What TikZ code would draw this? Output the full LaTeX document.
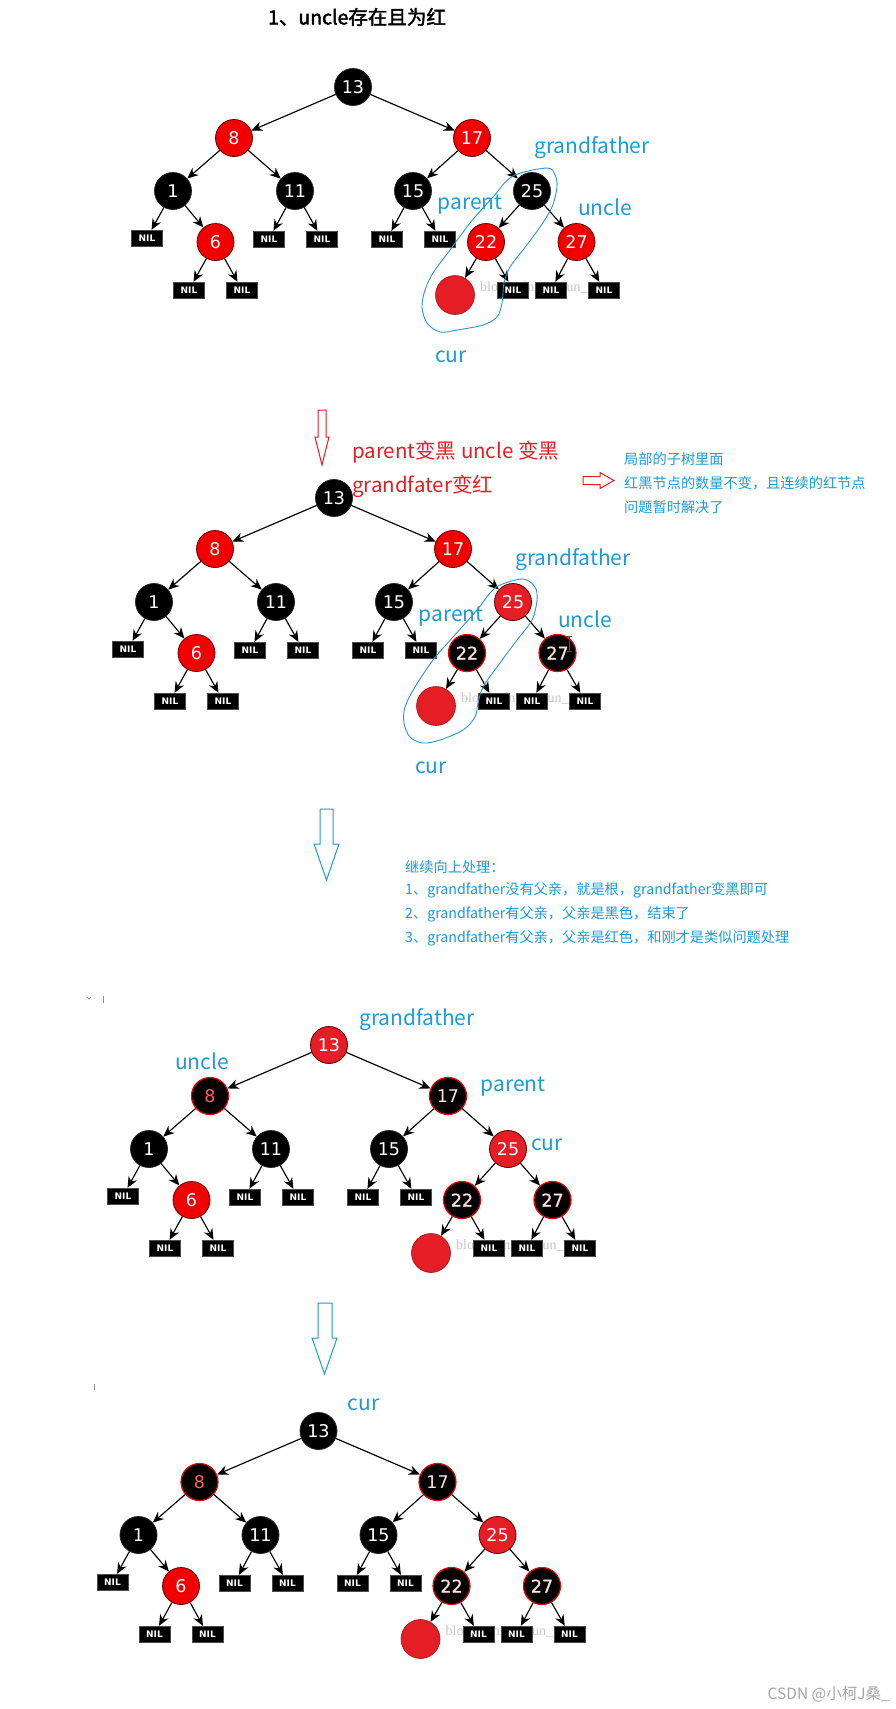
\documentclass[tikz,border=0pt]{standalone}
\usepackage{fontspec}
\usetikzlibrary{arrows.meta}
\newfontfamily\cjk{Noto Sans CJK SC}
\newfontfamily\cjkb[FakeBold=2.2]{Noto Sans CJK SC}
\newfontfamily\dejavu{DejaVu Sans}
\newfontfamily\dejavusb[FakeBold=0.9]{DejaVu Sans}
\newfontfamily\wmserif{Liberation Serif}
\definecolor{nred}{RGB}{242,0,0}
\definecolor{ncrim}{RGB}{229,30,38}
\definecolor{lblue}{RGB}{27,155,215}
\definecolor{tred}{RGB}{232,28,36}
\definecolor{loopc}{RGB}{45,150,200}
\definecolor{salm}{RGB}{255,95,95}
\newcommand\rbtree[3]{%
\begin{scope}[shift={(#2,#3)}]
\node[wm,anchor=west] (#1wm) at (127,201) {blog.csdn.net/Sun\_TTT};
\node[s13] (#1n13) at (0,0) {13};
\node[s8] (#1n8) at (-119,51) {8};
\node[s17] (#1n17) at (119,51) {17};
\node[nb] (#1n1) at (-180,104) {1};
\node[nb] (#1n11) at (-58,104) {11};
\node[nb] (#1n15) at (60,104) {15};
\node[s25] (#1n25) at (179,104) {25};
\node[nil] (#1La) at (-206,151) {NIL};
\node[nr] (#1n6) at (-137.5,155) {6};
\node[nil] (#1Lb) at (-84,152) {NIL};
\node[nil] (#1Lc) at (-31,152) {NIL};
\node[nil] (#1Ld) at (34,152) {NIL};
\node[nil] (#1Le) at (87,152) {NIL};
\node[s22] (#1n22) at (133,155) {22};
\node[s27] (#1n27) at (223.5,155) {27};
\node[nil] (#1Lf) at (-164,203) {NIL};
\node[nil] (#1Lg) at (-111,203) {NIL};
\node[curn] (#1cur) at (102,208) {};
\node[nil] (#1Lh) at (160,203) {NIL};
\node[nil] (#1Li) at (198,203) {NIL};
\node[nil] (#1Lj) at (251,203) {NIL};
\draw[ed] (#1n13) -- (#1n8);
\draw[ed] (#1n13) -- (#1n17);
\draw[ed] (#1n8) -- (#1n1);
\draw[ed] (#1n8) -- (#1n11);
\draw[ed] (#1n17) -- (#1n15);
\draw[ed] (#1n17) -- (#1n25);
\draw[ed] (#1n1) -- (#1La);
\draw[ed] (#1n1) -- (#1n6);
\draw[ed] (#1n11) -- (#1Lb);
\draw[ed] (#1n11) -- (#1Lc);
\draw[ed] (#1n15) -- (#1Ld);
\draw[ed] (#1n15) -- (#1Le);
\draw[ed] (#1n25) -- (#1n22);
\draw[ed] (#1n25) -- (#1n27);
\draw[ed] (#1n6) -- (#1Lf);
\draw[ed] (#1n6) -- (#1Lg);
\draw[ed] (#1n22) -- (#1cur);
\draw[ed] (#1n22) -- (#1Lh);
\draw[ed] (#1n27) -- (#1Li);
\draw[ed] (#1n27) -- (#1Lj);
\end{scope}}
\begin{document}
\begin{tikzpicture}[x=1pt,y=-1pt,
 rb/.style={circle,minimum size=37pt,inner sep=0pt,line width=0.8pt,font={\dejavu\fontsize{17.5}{18}\selectfont}},
 nb/.style={rb,fill=black,draw=black!85,text=white},
 nr/.style={rb,fill=nred,draw=black!60!red,text=white},
 nc/.style={rb,fill=ncrim,draw=black!65!red,text=white},
 nk/.style={rb,fill=black,draw=nred,line width=1.2pt,text=white!88!red},
 nkb/.style={nk,font={\dejavusb\fontsize{17.5}{18}\selectfont}},
 nk8/.style={nk,text=salm},
 curn/.style={circle,minimum size=39pt,inner sep=0pt,fill=ncrim,draw=ncrim!70!black,line width=0.6pt},
 nil/.style={rectangle,fill=black,draw=black!70,minimum width=31pt,minimum height=16pt,inner sep=0pt,text=white,font={\dejavu\bfseries\fontsize{9}{10}\selectfont}},
 ed/.style={-{Stealth[length=11pt,width=9.5pt]},line width=1.15pt},
 wm/.style={inner sep=0pt,text=black!22,font={\wmserif\fontsize{14}{16}\selectfont}},
 lbl/.style={inner sep=0pt,text=lblue,font={\cjk\fontsize{21}{24}\selectfont}},
 rtxt/.style={inner sep=0pt,text=tred,font={\cjk\fontsize{20.5}{24}\selectfont}},
 para/.style={inner sep=0pt,text=lblue,font={\cjk\fontsize{14.2}{17}\selectfont}},
 loopl/.style={draw=loopc,line width=0.9pt},
 hol/.style={line width=1pt,line join=miter}
]
\fill[white] (0,0) rectangle (895,1709);
\useasboundingbox (0,0) rectangle (895,1709);

% title
\node[inner sep=0pt,font={\cjkb\fontsize{19.5}{22}\selectfont}] (title) at (357,17) {1、uncle存在且为红};

% ---------- tree 1
\tikzset{s13/.style={nb},s8/.style={nr},s17/.style={nr},s25/.style={nb},s22/.style={nr},s27/.style={nr}}
\rbtree{a}{353}{87}
\draw[loopl] plot[smooth cycle,tension=0.55] coordinates {(513,176) (547,168) (555,175) (557,187) (552,207) (540,227) (523,250) (510,267) (504,283) (502,303) (497,317) (483,325) (457,330) (440,332) (427,323) (422,307) (425,290) (433,273) (450,250) (470,223) (493,197)};
\node[lbl] (agf) at (592,148) {grandfather};
\node[lbl] (apa) at (470,205) {parent};
\node[lbl] (aun) at (605,207) {uncle};
\node[lbl] (acu) at (451,357) {cur};

% red hollow arrow down
\draw[hol,draw=tred] (318,410) -- (326,410) -- (326,437) -- (329,437) -- (322,465) -- (315,437) -- (318,437) -- cycle;
\node[rtxt,anchor=west] (r1) at (352,452) {parent变黑 uncle 变黑};
\node[rtxt,anchor=west] (r2) at (352,486) {grandfater变红};
% red hollow arrow right
\draw[hol,draw=tred] (583,476.5) -- (600,476.5) -- (600,472.5) -- (614,480.5) -- (600,488.5) -- (600,484.5) -- (583,484.5) -- cycle;
\node[para,anchor=west] (b1) at (624,459) {局部的子树里面};
\node[para,anchor=west] (b2) at (624,483) {红黑节点的数量不变，且连续的红节点};
\node[para,anchor=west] (b3) at (624,507) {问题暂时解决了};

% ---------- tree 2
\tikzset{s13/.style={nb},s8/.style={nr},s17/.style={nr},s25/.style={nc},s22/.style={nkb},s27/.style={nkb}}
\rbtree{b}{334}{498}
\draw[loopl] plot[smooth cycle,tension=0.55] coordinates {(500,585) (523,579) (535,587) (537,600) (532,620) (517,640) (497,667) (483,687) (478,703) (475,717) (463,730) (440,740) (423,743) (410,737) (404,723) (405,707) (415,687) (433,660) (453,637) (477,610) (490,593)};
\node[lbl] (bgf) at (573,560) {grandfather};
\node[lbl] (bpa) at (451,617) {parent};
\node[lbl] (bun) at (585,619) {uncle};
\node[lbl] (bcu) at (431,768) {cur};
\draw[black!70,line width=0.8pt] (569,636) -- (569,651) (566.5,636) -- (571.5,636) (566.5,651) -- (571.5,651);

% blue hollow arrow 2
\draw[hol,draw=lblue] (320,809) -- (333,809) -- (333,844) -- (339,844) -- (326.5,880) -- (314,844) -- (320,844) -- cycle;
\node[para,anchor=west] (c0) at (405,867) {继续向上处理：};
\node[para,anchor=west] (c1) at (405,890) {1、grandfather没有父亲，就是根，grandfather变黑即可};
\node[para,anchor=west] (c2) at (405,914) {2、grandfather有父亲，父亲是黑色，结束了};
\node[para,anchor=west] (c3) at (405,938) {3、grandfather有父亲，父亲是红色，和刚才是类似问题处理};

% ---------- tree 3
\draw[black!45,line width=0.7pt] (87,997) -- (89,999) -- (91,997);
\draw[black!45,line width=0.7pt] (103,996) -- (103,1003);
\tikzset{s13/.style={nc},s8/.style={nk8},s17/.style={nk},s25/.style={nc},s22/.style={nkb},s27/.style={nkb}}
\rbtree{c}{329}{1045}
\node[lbl] (cgf) at (417,1020) {grandfather};
\node[lbl] (cun) at (202,1061) {uncle};
\node[lbl] (cpa) at (513,1087) {parent};
\node[lbl] (ccu) at (547,1145) {cur};

% blue hollow arrow 3
\draw[hol,draw=lblue] (318,1303) -- (332,1303) -- (332,1338) -- (337,1338) -- (324.5,1374) -- (312,1338) -- (318,1338) -- cycle;
\draw[black!45,line width=0.7pt] (94,1384) -- (94,1390);

% ---------- tree 4
\tikzset{s13/.style={nb},s8/.style={nk8},s17/.style={nk},s25/.style={nc},s22/.style={nkb},s27/.style={nkb}}
\rbtree{d}{318.5}{1431}
\node[lbl] (dcu) at (363.5,1405) {cur};

% watermark
\node[inner sep=0pt,anchor=east,text=black!35,font={\cjk\fontsize{15.5}{18}\selectfont}] (csdn) at (890,1694) {CSDN @小柯J桑\_};
\end{tikzpicture}
\end{document}
